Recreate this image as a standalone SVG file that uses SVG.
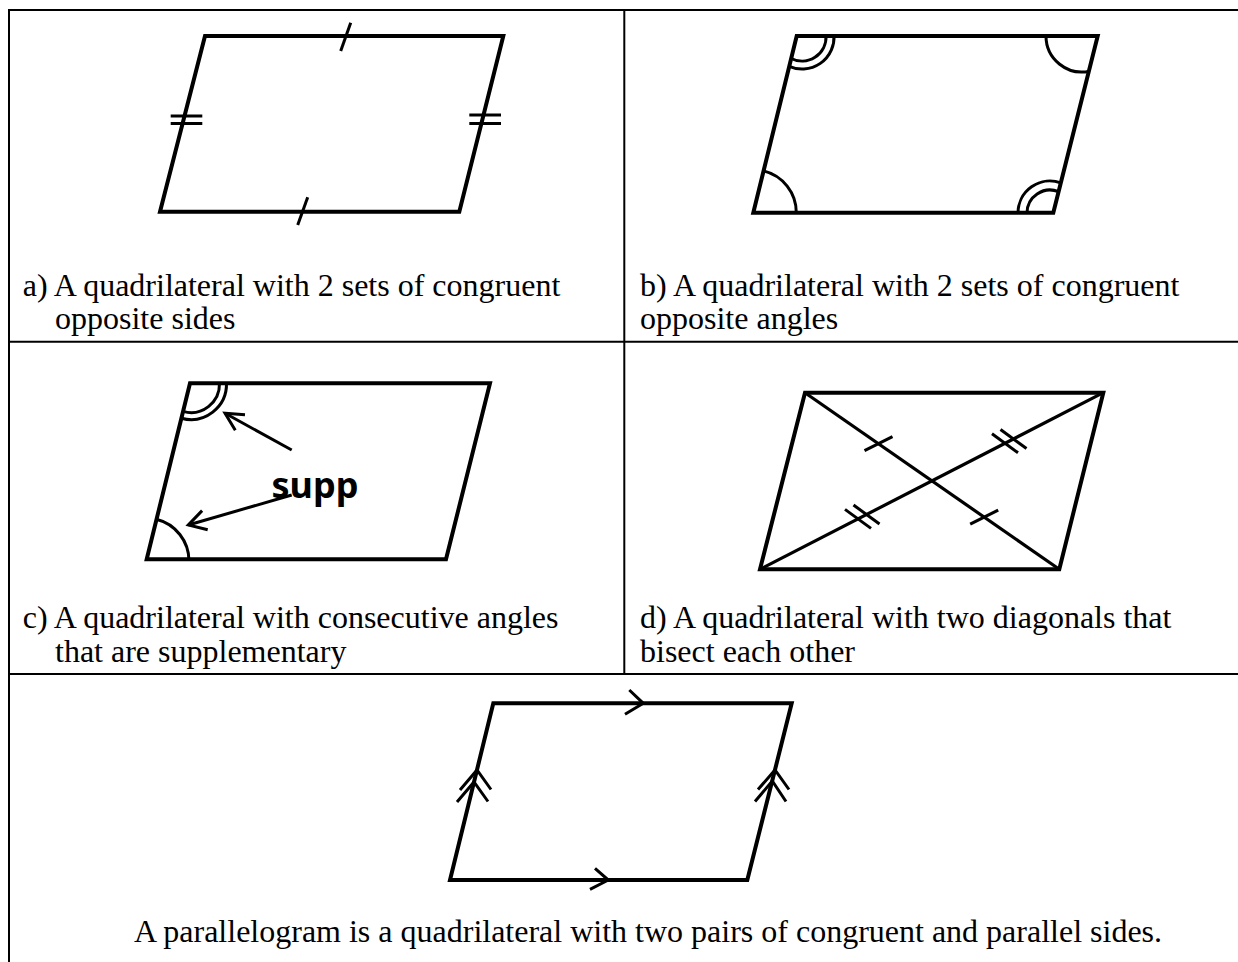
<svg xmlns="http://www.w3.org/2000/svg" width="1238" height="962" viewBox="0 0 1238 962">
<style>
.grid{stroke:#000;stroke-width:2;fill:none}
.shape{fill:none;stroke:#000;stroke-width:4;stroke-linejoin:miter}
.diag{fill:none;stroke:#000;stroke-width:3.2}
.mark{fill:none;stroke:#000;stroke-width:3}
.label{font-family:"Liberation Serif","Times New Roman",serif;font-size:32px;fill:#000}
.supp{font-family:"Noto Sans","Open Sans",sans-serif;font-weight:bold;font-size:36px;fill:#000}
</style>
<rect width="1238" height="962" fill="#fff"/>
<g id="table">
<line class="grid" x1="8" y1="10" x2="1238" y2="10"/>
<line class="grid" x1="9" y1="9" x2="9" y2="962"/>
<line class="grid" x1="624.3" y1="10" x2="624.3" y2="674"/>
<line class="grid" x1="9" y1="341.7" x2="1238" y2="341.7"/>
<line class="grid" x1="9" y1="674" x2="1238" y2="674"/>
</g>
<g id="panel-a">
<polygon class="shape" points="205,36 503.3,36 459.3,211.7 160,211.7"/>
<line class="mark" x1="340.7" y1="51" x2="350.7" y2="22.7"/>
<line class="mark" x1="297.7" y1="225" x2="307.7" y2="197.3"/>
<line class="mark" x1="170.7" y1="116" x2="202.3" y2="116"/>
<line class="mark" x1="170.7" y1="123.5" x2="202.3" y2="123.5"/>
<line class="mark" x1="469.3" y1="115" x2="501" y2="115"/>
<line class="mark" x1="469.3" y1="123.5" x2="501" y2="123.5"/>
<text class="label" x="22.7" y="296">a) A quadrilateral with 2 sets of congruent</text>
<text class="label" x="55" y="329">opposite sides</text>
</g>
<g id="panel-b">
<polygon class="shape" points="796.7,36 1097.7,36 1053.3,212.7 753.3,212.7"/>
<path class="mark" d="M826,35.7 A24,24 0 0 1 790.7,58.2"/>
<path class="mark" d="M834,35.3 A32,32 0 0 1 789.2,66.4"/>
<path class="mark" d="M1046,36 A36,36 0 0 0 1089.5,71.2"/>
<path class="mark" d="M763.6,170.9 A43,43 0 0 1 796.3,212.7"/>
<path class="mark" d="M1027,213 A23,23 0 0 1 1058.6,191.7"/>
<path class="mark" d="M1018,213 A32,32 0 0 1 1060.8,182.9"/>
<text class="label" x="640" y="296">b) A quadrilateral with 2 sets of congruent</text>
<text class="label" x="640" y="329">opposite angles</text>
</g>
<g id="panel-c">
<polygon class="shape" points="190,383.3 490,383.3 446,559.3 146.7,559.3"/>
<path class="mark" d="M219.5,383.3 A28.5,28.5 0 0 1 183.1,411.4"/>
<path class="mark" d="M226.5,383.3 A35.5,35.5 0 0 1 181.4,418.2"/>
<path class="mark" d="M156.3,519.2 A43,43 0 0 1 189,561"/>
<text class="supp" x="271.5" y="498">supp</text>
<text class="label" x="22.7" y="628">c) A quadrilateral with consecutive angles</text>
<text class="label" x="55" y="662">that are supplementary</text>
</g>
<g id="panel-d">
<polygon class="shape" points="805,392.7 1103.3,392.7 1059.3,569.3 760,569.3"/>
<line class="diag" x1="805" y1="392.7" x2="1059.3" y2="569.3"/>
<line class="diag" x1="1103.3" y1="392.7" x2="760" y2="569.3"/>
<line class="mark" x1="864.5" y1="450.6" x2="892.5" y2="436.6"/>
<line class="mark" x1="970.2" y1="524.1" x2="998.2" y2="510.1"/>
<line class="mark" x1="992" y1="433.8" x2="1018" y2="452.8"/>
<line class="mark" x1="1000.5" y1="429.5" x2="1026.5" y2="448.5"/>
<line class="mark" x1="845" y1="509.4" x2="871" y2="528.4"/>
<line class="mark" x1="853.5" y1="505" x2="879.5" y2="524"/>
<text class="label" x="640" y="628">d) A quadrilateral with two diagonals that</text>
<text class="label" x="640" y="662">bisect each other</text>
</g>
<g id="panel-e">
<polygon class="shape" points="493.3,703.3 791.7,703.3 747.3,880 450,880"/>
<polyline class="mark" points="629.3,690 643.3,703.3 625,714.3"/>
<polyline class="mark" points="595,868.3 608.3,880 590,889.3"/>
<polyline class="mark" points="460,790 477,770 491,789.5"/>
<polyline class="mark" points="457,802 474,782 488,801.5"/>
<polyline class="mark" points="758,789.5 775,770 789,789.5"/>
<polyline class="mark" points="755,801.5 772.3,781 786,801.5"/>
<text class="label" x="648" y="942" text-anchor="middle">A parallelogram is a quadrilateral with two pairs of congruent and parallel sides.</text>
</g>
<g id="connectors">
<line class="mark" x1="291.7" y1="450" x2="225" y2="413.3"/>
<polyline class="mark" points="245,414.7 225,413.3 235.3,430.3"/>
<line class="mark" x1="291.7" y1="495" x2="188.3" y2="525"/>
<polyline class="mark" points="202.1,510.6 188.3,525 207.7,529.8"/>
</g>
</svg>
